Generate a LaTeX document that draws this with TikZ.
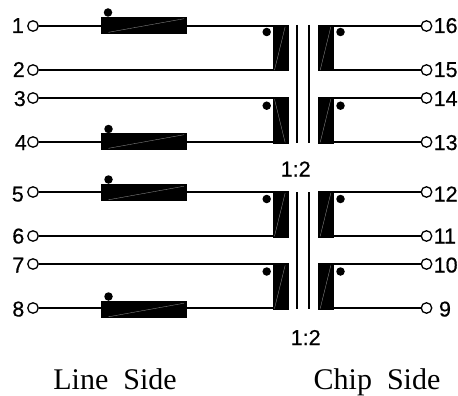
\documentclass[tikz,border=0pt]{standalone}
\usepackage{fontspec}
\setmainfont{Liberation Serif}
\setsansfont[FakeBold=0.5]{Liberation Sans}
\tikzset{
  wire/.style={line width=1.6pt,black},
  pin/.style={circle,draw=black,fill=white,line width=1.3pt,minimum size=10.5pt,inner sep=0pt},
  core/.style={line width=1.8pt,black},
  ferrite/.style={rectangle,fill=black,draw=black,line width=0.6pt,minimum width=85pt,minimum height=16pt,inner sep=0pt},
  winding/.style={rectangle,fill=black,draw=black,line width=0.6pt,minimum width=15pt,minimum height=45.5pt,inner sep=0pt},
  slash/.style={line width=0.35pt,black!45},
  phase/.style={circle,fill=black,minimum size=8.5pt,inner sep=0pt},
  num/.style={font=\sffamily\fontsize{21.5}{21.5}\selectfont,inner sep=0pt,anchor=base},
  caption/.style={font=\rmfamily\fontsize{30}{30}\selectfont,inner sep=0pt,anchor=base}
}
\newcommand{\leftpin}[4]{%
  \node[pin] (p#1) at (33,#2) {};
  \node[num,anchor=base east] (l#1) at (#4,#3) {#1};
}
\newcommand{\rightpin}[3]{%
  \node[pin] (p#1) at (426.5,#2) {};
  \node[num,anchor=base west] (l#1) at (433.5,#3) {#1};
}
\begin{document}
\begin{tikzpicture}[x=1pt,y=-1pt]
\useasboundingbox (0,0) rectangle (458,396);
\node[winding] (wa) at (280.3,48) {};
\node[winding] (wb) at (280.3,120.3) {};
\node[winding] (wc) at (280.3,214.2) {};
\node[winding] (wd) at (280.3,286.5) {};
\node[winding] (xa) at (326,48) {};
\node[winding] (xb) at (326,120.3) {};
\node[winding] (xc) at (326,214.2) {};
\node[winding] (xd) at (326,286.5) {};
\node[ferrite] (fa) at (143.3,25) {};
\node[ferrite] (fb) at (143.3,141) {};
\node[ferrite] (fc) at (143.3,192.5) {};
\node[ferrite] (fd) at (143.3,309.5) {};
\leftpin{1}{26}{33}{24}
\leftpin{2}{70}{77}{25}
\leftpin{3}{98}{106}{26}
\leftpin{4}{142}{150}{27}
\leftpin{5}{192}{201.5}{24}
\leftpin{6}{236}{243.5}{24.5}
\leftpin{7}{264}{272.5}{24.5}
\leftpin{8}{308}{316.5}{24.5}
\rightpin{16}{26}{33}
\rightpin{15}{70}{77}
\rightpin{14}{98}{106}
\rightpin{13}{142}{150}
\rightpin{12}{192}{201.5}
\rightpin{11}{236}{243.5}
\rightpin{10}{264}{272.5}
\node[pin] (p9) at (426.5,308) {};
\node[num] (l9) at (445,316.5) {9};
\draw[wire] (p1) -- (fa.west |- p1);
\draw[wire] (fa.east |- p1) -- (wa.west |- p1);
\draw[wire] (p2) -- (wa.west |- p2);
\draw[wire] (p3) -- (wb.west |- p3);
\draw[wire] (p4) -- (fb.west |- p4);
\draw[wire] (fb.east |- p4) -- (wb.west |- p4);
\draw[wire] (p5) -- (fc.west |- p5);
\draw[wire] (fc.east |- p5) -- (wc.west |- p5);
\draw[wire] (p6) -- (wc.west |- p6);
\draw[wire] (p7) -- (wd.west |- p7);
\draw[wire] (p8) -- (fd.west |- p8);
\draw[wire] (fd.east |- p8) -- (wd.west |- p8);
\draw[wire] (p16) -- (xa.east |- p16);
\draw[wire] (p15) -- (xa.east |- p15);
\draw[wire] (p14) -- (xb.east |- p14);
\draw[wire] (p13) -- (xb.east |- p13);
\draw[wire] (p12) -- (xc.east |- p12);
\draw[wire] (p11) -- (xc.east |- p11);
\draw[wire] (p10) -- (xd.east |- p10);
\draw[wire] (p9) -- (xd.east |- p9);
\foreach \n in {fa,fb,fc,fd}{\draw[slash] (\n.south west) ++(8,-1) -- ([shift={(-2,2)}]\n.north east);}
\foreach \n in {wa,wc,wd,xa,xb,xc,xd}{\draw[slash] ([shift={(2,-1)}]\n.south west) -- ([shift={(-3,2)}]\n.north east);}
\draw[slash] ([shift={(2,2)}]wb.north west) -- ([shift={(-3,-1)}]wb.south east);
\coordinate (ct1) at (297,25); \coordinate (cb1) at (297,143);
\coordinate (ct2) at (309,25); \coordinate (cb2) at (309,143);
\coordinate (ct3) at (297,192); \coordinate (cb3) at (297,309);
\coordinate (ct4) at (309,192); \coordinate (cb4) at (309,309);
\draw[core] (ct1) -- (cb1);
\draw[core] (ct2) -- (cb2);
\draw[core] (ct3) -- (cb3);
\draw[core] (ct4) -- (cb4);
\node[phase] (da) at (266.7,32) {};
\node[phase] (db) at (266.7,105.7) {};
\node[phase] (dc) at (266.7,199) {};
\node[phase] (dd) at (266.7,271.5) {};
\node[phase] (ea) at (340.5,32) {};
\node[phase] (eb) at (340.5,105.7) {};
\node[phase] (ec) at (340.5,199) {};
\node[phase] (ed) at (340.5,271.5) {};
\node[phase] (ga) at (108,12.5) {};
\node[phase] (gb) at (108.5,129) {};
\node[phase] (gc) at (108.5,179.5) {};
\node[phase] (gd) at (108.5,296.5) {};
\draw[wire,line width=0.8pt] (ga) -- (ga |- fa.north);
\draw[wire,line width=0.8pt] (gb) -- (gb |- fb.north);
\draw[wire,line width=0.8pt] (gc) -- (gc |- fc.north);
\draw[wire,line width=0.8pt] (gd) -- (gd |- fd.north);
\node[num] (ra) at (295.7,176.5) {1:2};
\node[num] (rb) at (305.7,345) {1:2};
\node[caption] (cl) at (115,389.5) {Line\hspace{0.25em} Side};
\node[caption] (cr) at (377,389.5) {Chip\hspace{0.25em} Side};
\end{tikzpicture}
\end{document}
